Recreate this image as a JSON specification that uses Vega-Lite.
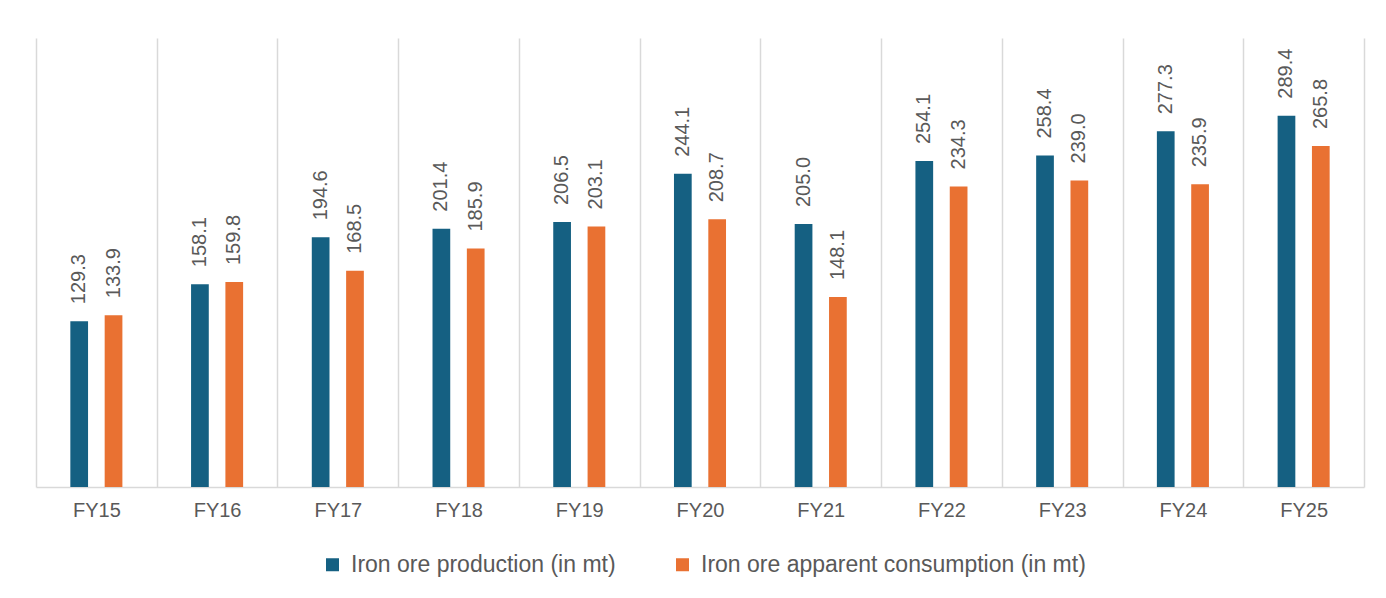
{
  "$schema": "https://vega.github.io/schema/vega-lite/v6.json",
  "width": 1328,
  "height": 449,
  "autosize": {"type": "none"},
  "padding": {"left": 36, "top": 38, "right": 22, "bottom": 111},
  "background": "white",
  "config": {"view": {"stroke": null}, "font": "Liberation Sans"},
  "data": {
    "values": [
      {"year": "FY15", "series": "Iron ore production (in mt)", "value": 129.3},
      {"year": "FY15", "series": "Iron ore apparent consumption (in mt)", "value": 133.9},
      {"year": "FY16", "series": "Iron ore production (in mt)", "value": 158.1},
      {"year": "FY16", "series": "Iron ore apparent consumption (in mt)", "value": 159.8},
      {"year": "FY17", "series": "Iron ore production (in mt)", "value": 194.6},
      {"year": "FY17", "series": "Iron ore apparent consumption (in mt)", "value": 168.5},
      {"year": "FY18", "series": "Iron ore production (in mt)", "value": 201.4},
      {"year": "FY18", "series": "Iron ore apparent consumption (in mt)", "value": 185.9},
      {"year": "FY19", "series": "Iron ore production (in mt)", "value": 206.5},
      {"year": "FY19", "series": "Iron ore apparent consumption (in mt)", "value": 203.1},
      {"year": "FY20", "series": "Iron ore production (in mt)", "value": 244.1},
      {"year": "FY20", "series": "Iron ore apparent consumption (in mt)", "value": 208.7},
      {"year": "FY21", "series": "Iron ore production (in mt)", "value": 205.0},
      {"year": "FY21", "series": "Iron ore apparent consumption (in mt)", "value": 148.1},
      {"year": "FY22", "series": "Iron ore production (in mt)", "value": 254.1},
      {"year": "FY22", "series": "Iron ore apparent consumption (in mt)", "value": 234.3},
      {"year": "FY23", "series": "Iron ore production (in mt)", "value": 258.4},
      {"year": "FY23", "series": "Iron ore apparent consumption (in mt)", "value": 239.0},
      {"year": "FY24", "series": "Iron ore production (in mt)", "value": 277.3},
      {"year": "FY24", "series": "Iron ore apparent consumption (in mt)", "value": 235.9},
      {"year": "FY25", "series": "Iron ore production (in mt)", "value": 289.4},
      {"year": "FY25", "series": "Iron ore apparent consumption (in mt)", "value": 265.8}
    ]
  },
  "encoding": {
    "x": {
      "field": "year", "type": "nominal", "sort": null,
      "scale": {"paddingInner": 0, "paddingOuter": 0},
      "axis": {
        "title": null, "tickBand": "extent", "grid": true, "gridColor": "#d9d9d9", "gridWidth": 1.5,
        "ticks": false, "domainColor": "#d9d9d9", "domainWidth": 1.5, "labelAngle": 0,
        "labelFontSize": 20, "labelColor": "#595959", "labelPadding": 13
      }
    },
    "xOffset": {
      "field": "series", "type": "nominal", "sort": null,
      "scale": {"paddingInner": 0.484, "paddingOuter": 1.189}
    },
    "y": {"field": "value", "type": "quantitative", "scale": {"domain": [0, 350]}, "axis": null}
  },
  "layer": [
    {
      "mark": {"type": "bar"},
      "encoding": {
        "color": {
          "field": "series", "type": "nominal", "sort": null,
          "scale": {"range": ["#156082", "#e97132"]},
          "legend": {
            "title": null, "orient": "none", "legendX": 285, "legendY": 515, "direction": "horizontal",
            "symbolType": "square", "symbolSize": 169, "symbolStrokeWidth": 0,
            "labelFontSize": 23, "labelColor": "#595959", "columnPadding": 55, "labelOffset": 7, "labelLimit": 0
          }
        }
      }
    },
    {
      "mark": {"type": "text", "angle": 270, "align": "left", "baseline": "middle", "dx": 17, "fontSize": 20, "color": "#595959"},
      "encoding": {"text": {"field": "value", "type": "quantitative", "format": ".1f"}}
    }
  ]
}
